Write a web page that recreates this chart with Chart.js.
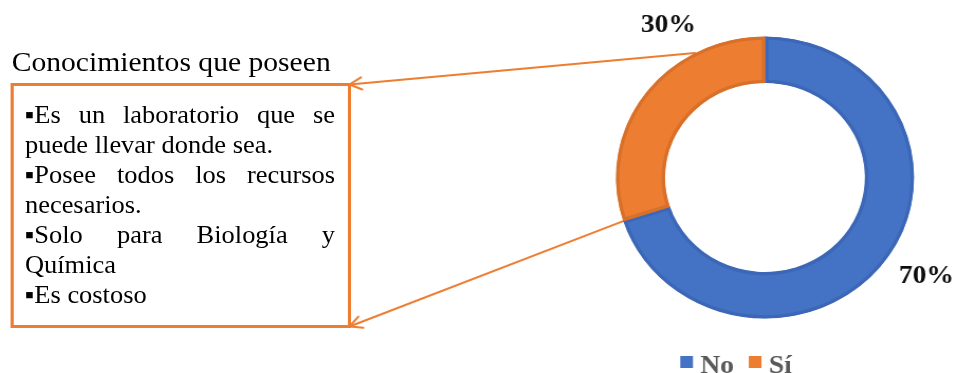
<!DOCTYPE html>
<html lang="es">
<head>
<meta charset="utf-8">
<title>Conocimientos que poseen</title>
<script src="https://cdn.jsdelivr.net/npm/chart.js@4.4.0/dist/chart.umd.min.js"></script>
<style>
  html, body { margin: 0; padding: 0; background: #fff; overflow: hidden; }
  /* whole figure is drawn a bit wider than tall */
  #stage { position: absolute; left: 0; top: 0; width: 905px; height: 373px;
           transform: scaleX(1.0575); transform-origin: 0 0; }
  #chart { position: absolute; left: 0; top: 0; }
  #title { position: absolute; left: 11px; top: 46.5px; white-space: nowrap;
           font: 28px/30px "Liberation Serif", "Times New Roman", serif; color: #000; }
  #box { position: absolute; box-sizing: border-box; border: 3px solid #ED7D31;
         font: 25px/30px "Liberation Serif", "Times New Roman", serif; color: #000; }
  #box .j { text-align: justify; text-align-last: justify; text-justify: inter-word; }
  #box .lead { display: inline-block; }
</style>
</head>
<body>
<div id="stage">
  <canvas id="chart" width="905" height="373"></canvas>
  <div id="title">Conocimientos que poseen</div>
  <div id="box"></div>
</div>
<script>
// ----- datos -----
const categories = ['No', 'Sí'];
const values = [70, 30];
const sliceColors = ['#4472C4', '#ED7D31'];
const edgeColors = ['#3C67B6', '#D8702A'];

// lines of the note box, true = justified line
const boxLines = ['▪Es un laboratorio que se', 'puede llevar donde sea.', '▪Posee todos los recursos',
  'necesarios.', '▪Solo para Biología y', 'Química', '▪Es costoso'];
const boxJustified = [true, false, true, false, true, false, false];

// ----- note box -----
const BOX = { left: 9.5, top: 83, width: 322.5, height: 245 };
const box = document.getElementById('box');
box.style.left = BOX.left + 'px';
box.style.top = BOX.top + 'px';
box.style.width = BOX.width + 'px';
box.style.height = BOX.height + 'px';
box.style.padding = '13.9px 12.2px 0 11.1px';
boxLines.forEach((t, i) => {
  const d = document.createElement('div');
  // keep the bullet glued to its first word so justify only stretches spaces
  const cut = t.indexOf(' ');
  const lead = document.createElement('span');
  lead.className = 'lead';
  lead.textContent = cut < 0 ? t : t.slice(0, cut);
  d.appendChild(lead);
  if (cut >= 0) d.appendChild(document.createTextNode(t.slice(cut)));
  if (boxJustified[i]) d.className = 'j';
  box.appendChild(d);
});

const serif = '"Liberation Serif", "Times New Roman", serif';

// arrows from the "Sí" slice to the corners of the box (under the ring)
const calloutArrows = {
  id: 'calloutArrows',
  beforeDatasetsDraw(chart) {
    const arc = chart.getDatasetMeta(0).data[1];
    const { x, y, startAngle, endAngle, outerRadius } =
      arc.getProps(['x', 'y', 'startAngle', 'endAngle', 'outerRadius'], true);
    const right = BOX.left + BOX.width - 1.5;
    const ends = [
      { a: startAngle + (endAngle - startAngle) * 0.74, tx: right, ty: BOX.top + 1.5 },
      { a: startAngle, tx: right, ty: BOX.top + BOX.height - 1.5 }
    ];
    const ctx = chart.ctx;
    ctx.save();
    ctx.strokeStyle = '#ED7D31';
    ctx.lineWidth = 2;
    ctx.lineCap = 'round';
    ends.forEach(e => {
      const rx = x + Math.cos(e.a) * outerRadius;
      const ry = y + Math.sin(e.a) * outerRadius;
      const dir = Math.atan2(e.ty - ry, e.tx - rx);
      ctx.beginPath();
      ctx.moveTo(rx, ry);
      ctx.lineTo(e.tx, e.ty);
      ctx.stroke();
      const len = 13, spread = 28 * Math.PI / 180;
      ctx.beginPath();
      ctx.moveTo(e.tx + Math.cos(dir + Math.PI - spread) * len, e.ty + Math.sin(dir + Math.PI - spread) * len);
      ctx.lineTo(e.tx, e.ty);
      ctx.lineTo(e.tx + Math.cos(dir + Math.PI + spread) * len, e.ty + Math.sin(dir + Math.PI + spread) * len);
      ctx.stroke();
    });
    ctx.restore();
  }
};

// percentage labels outside the ring
const sliceLabels = {
  id: 'sliceLabels',
  afterDatasetsDraw(chart, args, opts) {
    const total = values.reduce((s, v) => s + v, 0);
    const ctx = chart.ctx;
    ctx.save();
    ctx.font = 'bold 26px ' + serif;
    ctx.fillStyle = '#0d0d0d';
    ctx.textAlign = 'center';
    ctx.textBaseline = 'middle';
    chart.getDatasetMeta(0).data.forEach((arc, i) => {
      const { x, y, startAngle, endAngle, outerRadius } =
        arc.getProps(['x', 'y', 'startAngle', 'endAngle', 'outerRadius'], true);
      const a = (startAngle + endAngle) / 2 + opts.angleShift[i] * Math.PI / 180;
      const r = outerRadius * opts.radiusFactor[i];
      ctx.fillText(Math.round(values[i] / total * 100) + '%', x + Math.cos(a) * r, y + Math.sin(a) * r);
    });
    ctx.restore();
  }
};

// legend below the ring
const bottomLegend = {
  id: 'bottomLegend',
  afterDraw(chart, args, opts) {
    const ctx = chart.ctx;
    ctx.save();
    ctx.font = 'bold 26px ' + serif;
    const sw = 12, gap = 7, between = 14;
    const widths = categories.map(c => ctx.measureText(c).width);
    const total = widths.reduce((s, w) => s + sw + gap + w, 0) + between * (categories.length - 1);
    let cx = opts.centerX - total / 2;
    ctx.textBaseline = 'alphabetic';
    categories.forEach((c, i) => {
      ctx.fillStyle = sliceColors[i];
      ctx.fillRect(cx, opts.y - 17, sw, 12);
      cx += sw + gap;
      ctx.fillStyle = '#595959';
      ctx.fillText(c, cx, opts.y);
      cx += widths[i] + between;
    });
    ctx.restore();
  }
};

new Chart(document.getElementById('chart'), {
  type: 'doughnut',
  data: {
    labels: categories,
    datasets: [{
      data: values,
      backgroundColor: sliceColors,
      borderColor: edgeColors,
      borderWidth: 3,
      borderAlign: 'inner'
    }]
  },
  options: {
    responsive: false,
    animation: false,
    cutout: '67%',
    layout: { padding: { left: 582.4, right: 40.6, top: 36.5, bottom: 54.5 } },
    plugins: {
      legend: { display: false },
      tooltip: { enabled: false },
      sliceLabels: { angleShift: [-3, 23], radiusFactor: [1.29, 1.26] },
      bottomLegend: { centerX: 696, y: 373 }
    }
  },
  plugins: [calloutArrows, sliceLabels, bottomLegend]
});
</script>
</body>
</html>
